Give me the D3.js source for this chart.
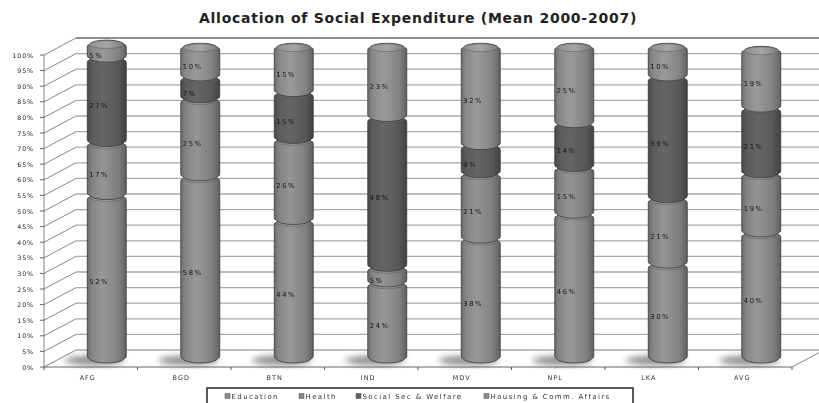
<!DOCTYPE html>
<html>
<head>
<meta charset="utf-8">
<script src="https://cdn.jsdelivr.net/npm/d3@7"></script>
<style>
  html, body { margin: 0; padding: 0; background: #fff; }
  svg { display: block; }
</style>
</head>
<body>
<svg id="chart" width="819" height="403"></svg>
<script>
// Mean allocation of social expenditure, 2000-2007 (% of total)
const categories = ["AFG", "BGD", "BTN", "IND", "MDV", "NPL", "LKA", "AVG"];
const seriesNames = ["Education", "Health", "Social Sec & Welfare", "Housing & Comm. Affairs"];
const education = [52, 58, 44, 24, 38, 46, 30, 40];
const health    = [17, 25, 26, 5, 21, 15, 21, 19];
const social    = [27, 7, 15, 48, 9, 14, 39, 21];
const housing   = [5, 10, 15, 23, 32, 25, 10, 19];
const yTicks = d3.range(0, 101, 5);

const seriesValues = [education, health, social, housing];
const seriesColors = ["#8b8b8b", "#878787", "#5d5d5d", "#8d8d8d"];

const svg = d3.select("#chart");

// front plane of the 3D box, plus depth offset to the back wall
const x0 = 44, x1 = 792, yBottom = 367, yTop = 55;
const depthX = 32, depthY = -17;

const x = d3.scaleBand().domain(categories).range([x0, x1]).paddingInner(0).paddingOuter(0);
const y = d3.scaleLinear().domain([0, 100]).range([yBottom, yTop]);
const barW = 39;

const defs = svg.append("defs");
seriesColors.forEach((c, i) => {
  const g = defs.append("linearGradient").attr("id", "grad" + i)
    .attr("x1", "0%").attr("x2", "100%").attr("y1", "0%").attr("y2", "0%");
  const base = d3.color(c);
  g.append("stop").attr("offset", "0%").attr("stop-color", base.darker(0.7));
  g.append("stop").attr("offset", "12%").attr("stop-color", base.darker(0.1));
  g.append("stop").attr("offset", "40%").attr("stop-color", base.brighter(0.25));
  g.append("stop").attr("offset", "80%").attr("stop-color", base.darker(0.2));
  g.append("stop").attr("offset", "100%").attr("stop-color", base.darker(1.0));
  const t = defs.append("linearGradient").attr("id", "top" + i)
    .attr("x1", "0%").attr("x2", "100%").attr("y1", "0%").attr("y2", "0%");
  t.append("stop").attr("offset", "0%").attr("stop-color", base.brighter(0.1));
  t.append("stop").attr("offset", "50%").attr("stop-color", base.brighter(0.45));
  t.append("stop").attr("offset", "100%").attr("stop-color", base.darker(0.3));
});
const blur = defs.append("filter").attr("id", "soft").attr("x", "-50%").attr("y", "-50%")
  .attr("width", "200%").attr("height", "200%");
blur.append("feGaussianBlur").attr("stdDeviation", 3);
const tiny = defs.append("filter").attr("id", "tiny");
tiny.append("feGaussianBlur").attr("stdDeviation", 0.35);

// Title
svg.append("text")
  .attr("x", 418).attr("y", 23)
  .attr("text-anchor", "middle")
  .attr("font-family", "DejaVu Sans, Verdana, sans-serif")
  .attr("font-weight", "bold")
  .attr("font-size", 14)
  .attr("letter-spacing", 0.75)
  .attr("fill", "#222")
  .text("Allocation of Social Expenditure (Mean 2000-2007)");

const chart = svg.append("g").attr("filter", "url(#tiny)");

// back wall gridlines
chart.append("g").selectAll("line.grid").data(yTicks).join("line")
  .attr("x1", x0 + depthX).attr("x2", x1 + depthX)
  .attr("y1", d => y(d) + depthY).attr("y2", d => y(d) + depthY)
  .attr("stroke", d => d === 100 ? "#8f8f8f" : "#a9a9a9")
  .attr("stroke-width", d => d === 100 ? 2 : 1.3);

// side wall diagonals
chart.append("g").selectAll("line.diag").data(yTicks).join("line")
  .attr("x1", x0).attr("y1", d => y(d))
  .attr("x2", x0 + depthX).attr("y2", d => y(d) + depthY)
  .attr("stroke", "#777").attr("stroke-width", 0.9);

// value axis
chart.append("line").attr("x1", x0).attr("x2", x0).attr("y1", y(100)).attr("y2", y(0))
  .attr("stroke", "#777").attr("stroke-width", 0.9);
chart.append("g").selectAll("line.tick").data(yTicks).join("line")
  .attr("x1", x0 - 4).attr("x2", x0).attr("y1", d => y(d)).attr("y2", d => y(d))
  .attr("stroke", "#555").attr("stroke-width", 0.9);
chart.append("g").selectAll("text.ytick").data(yTicks).join("text")
  .attr("x", 34).attr("y", d => y(d) + 2.5)
  .attr("text-anchor", "end")
  .attr("font-family", "DejaVu Sans, sans-serif")
  .attr("font-size", 6.3)
  .attr("letter-spacing", 0.9)
  .attr("fill", "#1a1a1a")
  .text(d => d + "%");

// floor edges
chart.append("line").attr("x1", x0).attr("x2", x1).attr("y1", yBottom).attr("y2", yBottom)
  .attr("stroke", "#666").attr("stroke-width", 1);
chart.append("line").attr("x1", x1).attr("y1", yBottom)
  .attr("x2", x1 + depthX).attr("y2", yBottom + depthY)
  .attr("stroke", "#777").attr("stroke-width", 0.9);
const bounds = categories.map(c => x(c)).concat([x1]);
chart.append("g").selectAll("line.xtick").data(bounds).join("line")
  .attr("x1", d => d).attr("x2", d => d)
  .attr("y1", yBottom).attr("y2", yBottom + 3)
  .attr("stroke", "#555").attr("stroke-width", 1);

// category labels
chart.append("g").selectAll("text.xlab").data(categories).join("text")
  .attr("x", d => x(d) + x.bandwidth() / 2 - 3)
  .attr("y", 380)
  .attr("text-anchor", "middle")
  .attr("font-family", "DejaVu Sans, sans-serif")
  .attr("font-size", 6.5)
  .attr("letter-spacing", 1)
  .attr("fill", "#333")
  .text(d => d);

// stacked data
const rows = categories.map((c, i) => {
  const r = { cat: c };
  seriesNames.forEach((s, k) => { r[s] = seriesValues[k][i]; });
  return r;
});
const stacked = d3.stack().keys(seriesNames)(rows);

const cx = c => x(c) + x.bandwidth() / 2 + depthX / 2;
const mid = v => y(v) + depthY / 2;
const ry = 4.5;
const bev = 2.2;

// floor shadows
chart.append("g").selectAll("ellipse.shadow").data(categories).join("ellipse")
  .attr("cx", d => cx(d) - 12).attr("cy", mid(0) + 2)
  .attr("rx", 30).attr("ry", 4.5)
  .attr("fill", "#3a3a3a").attr("opacity", 0.6)
  .attr("filter", "url(#soft)");

// cylinder segment outline with bevelled rims
function segmentPath(left, right, yt, yb) {
  const r = (right - left) / 2 - bev;
  return `M${left + bev},${yt} Q${left},${yt} ${left},${yt + bev} L${left},${yb - bev} ` +
    `Q${left},${yb} ${left + bev},${yb} A${r},${ry} 0 0 0 ${right - bev},${yb} ` +
    `Q${right},${yb} ${right},${yb - bev} L${right},${yt + bev} Q${right},${yt} ${right - bev},${yt} ` +
    `A${r},${ry} 0 0 0 ${left + bev},${yt} Z`;
}

const bars = chart.append("g");
categories.forEach((c, i) => {
  const g = bars.append("g");
  const left = cx(c) - barW / 2, right = cx(c) + barW / 2;
  stacked.forEach((layer, k) => {
    const seg = layer[i];
    if (seg[1] - seg[0] <= 0) return;
    const yb = mid(seg[0]) - (k === 0 ? 0 : 1.2);
    const yt = mid(seg[1]) + 1.2;
    g.append("path").attr("d", segmentPath(left, right, yt, yb))
      .attr("fill", `url(#grad${k})`)
      .attr("stroke", "#3a3a3a").attr("stroke-width", 0.8);
    g.append("ellipse").attr("cx", cx(c)).attr("cy", yt)
      .attr("rx", barW / 2 - bev - 0.3).attr("ry", ry - 0.6)
      .attr("fill", `url(#top${k})`)
      .attr("stroke", "#555").attr("stroke-width", 0.5);
  });
  // value labels
  stacked.forEach((layer, k) => {
    const seg = layer[i];
    const v = seg[1] - seg[0];
    if (v <= 0) return;
    g.append("text")
      .attr("x", left + 2)
      .attr("y", mid((seg[0] + seg[1]) / 2) + 7)
      .attr("font-family", "DejaVu Sans, sans-serif")
      .attr("font-size", 6.8)
      .attr("letter-spacing", 1.6)
      .attr("fill", "#151515")
      .text(v + "%");
  });
});

// legend
const legend = svg.append("g").attr("filter", "url(#tiny)");
legend.append("rect").attr("x", 207).attr("y", 388).attr("width", 426).attr("height", 22)
  .attr("fill", "#fff").attr("stroke", "#222").attr("stroke-width", 1.5);
const legendX = [225, 299, 356, 484];
seriesNames.forEach((s, k) => {
  legend.append("rect").attr("x", legendX[k]).attr("y", 393.5).attr("width", 5).attr("height", 5)
    .attr("fill", seriesColors[k]).attr("stroke", "#555").attr("stroke-width", 0.5);
  legend.append("text").attr("x", legendX[k] + 6.5).attr("y", 398.5)
    .attr("font-family", "DejaVu Sans, sans-serif")
    .attr("font-size", 7)
    .attr("letter-spacing", 1.4)
    .attr("fill", "#333")
    .text(s);
});
</script>
</body>
</html>
